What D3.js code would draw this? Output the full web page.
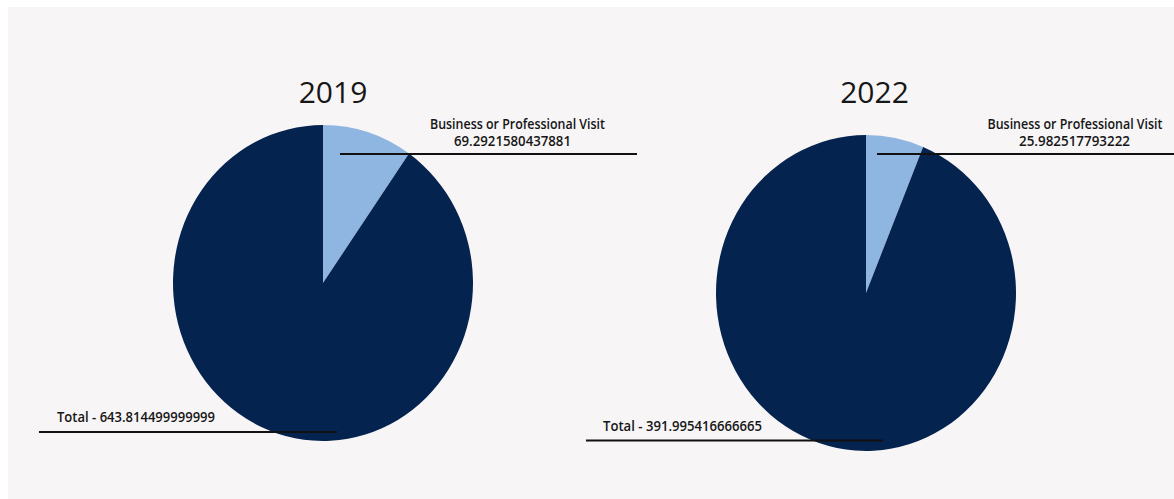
<!DOCTYPE html>
<html>
<head>
<meta charset="utf-8">
<script src="https://cdn.jsdelivr.net/npm/d3@7/dist/d3.min.js"></script>
<style>
  html, body { margin: 0; padding: 0; background: #ffffff; }
  svg { display: block; }
  text { font-family: "Open Sans", "Noto Sans", sans-serif; fill: #161616; }
</style>
</head>
<body>
<svg id="chart" width="1174" height="499"></svg>
<script>
// Visitor counts per year (thousands)
const years = ["2019", "2022"];
const categories = ["Business or Professional Visit", "Total"];
const businessValues = [69.2921580437881, 25.982517793222];
const totalValues = [643.814499999999, 391.995416666665];

const colors = d3.scaleOrdinal()
  .domain(categories)
  .range(["#8fb5e1", "#05234f"]);

// Layout for each year's pie and its callouts
const panels = [
  { cx: 323, cy: 283, titleX: 333,
    top: { x1: 340, x2: 637, y: 154, tx: 517.5, tx2: 512.5, w1: 175, w2: 117 },
    bottom: { x1: 39, x2: 337, y: 432, tx: 57, ty: 422, w: 158 } },
  { cx: 866, cy: 293, titleX: 874.5,
    top: { x1: 877, x2: 1174, y: 154, tx: 1075, tx2: 1074.5, w1: 175, w2: 111 },
    bottom: { x1: 586, x2: 883, y: 440.5, tx: 603, ty: 431, w: 159 } }
];

const svg = d3.select("#chart");

svg.append("rect")
  .attr("x", 8).attr("y", 7)
  .attr("width", 1166).attr("height", 492)
  .attr("fill", "#f7f5f6");

const radius = 150;
const pie = d3.pie().sort(null).value(d => d.value);
const arc = d3.arc().innerRadius(0).outerRadius(radius);

// Callout text: narrow glyphs, slightly tall; one <text> per callout,
// one <tspan> per line
const STRETCH = 1.12;
function callout(lines, anchor) {
  const t = svg.append("text")
    .attr("transform", `scale(1,${STRETCH})`)
    .attr("text-anchor", anchor)
    .attr("font-size", 13).attr("font-weight", 600);
  lines.forEach(l => {
    t.append("tspan")
      .attr("x", l.x).attr("y", l.y / STRETCH)
      .attr("textLength", l.w).attr("lengthAdjust", "spacingAndGlyphs")
      .text(l.str);
  });
}

years.forEach((year, i) => {
  const p = panels[i];
  const slices = [
    { key: categories[0], value: businessValues[i] },
    { key: categories[1], value: totalValues[i] }
  ];

  const g = svg.append("g")
    .attr("transform", `translate(${p.cx},${p.cy}) scale(1,1.053)`);

  g.selectAll("path")
    .data(pie(slices))
    .join("path")
    .attr("d", arc)
    .attr("fill", d => colors(d.data.key));

  svg.append("text")
    .attr("x", p.titleX).attr("y", 103)
    .attr("text-anchor", "middle")
    .attr("font-size", 30)
    .attr("fill", "#111")
    .text(year);

  // Business callout
  svg.append("line")
    .attr("x1", p.top.x1).attr("x2", p.top.x2)
    .attr("y1", p.top.y).attr("y2", p.top.y)
    .attr("stroke", "#111").attr("stroke-width", 2);

  callout([
    { x: p.top.tx, y: 129, w: p.top.w1, str: categories[0] },
    { x: p.top.tx2, y: 146, w: p.top.w2, str: String(businessValues[i]) }
  ], "middle");

  // Total callout
  svg.append("line")
    .attr("x1", p.bottom.x1).attr("x2", p.bottom.x2)
    .attr("y1", p.bottom.y).attr("y2", p.bottom.y)
    .attr("stroke", "#111").attr("stroke-width", 2);

  callout([
    { x: p.bottom.tx, y: p.bottom.ty, w: p.bottom.w,
      str: `${categories[1]} - ${totalValues[i]}` }
  ], "start");
});
</script>
</body>
</html>
